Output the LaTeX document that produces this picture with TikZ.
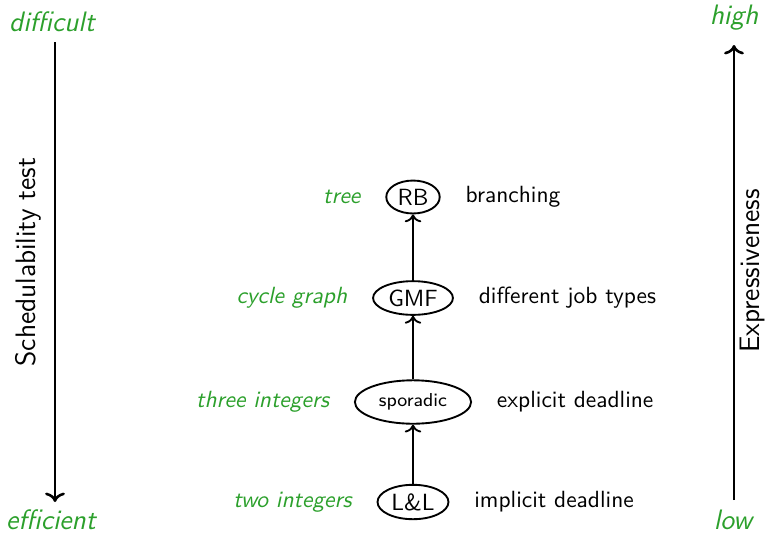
\documentclass[tikz,border=0pt]{standalone}
\usepackage{xcolor}
\usepackage{tikz}
\usetikzlibrary{arrows.meta,positioning,shapes.geometric}
\definecolor{cG}{HTML}{2CA02C}
\tikzset{
  model/.style={draw,ellipse,thick,font=\sffamily,inner sep=1.5pt},
  kind/.style={text=cG,font=\sffamily\itshape},
  note/.style={font=\sffamily},
  refine/.style={->,thick},
  axis/.style={->,line width=1.1pt},
  endlab/.style={kind,font=\sffamily\itshape\large},
  axlab/.style={note,font=\sffamily\large,rotate=90}
}

\begin{document}
\begin{tikzpicture}[x=0.015cm,y=-0.015cm,node distance=0.25cm]
  \useasboundingbox (0,0) rectangle (766,534);
  % the four task models
  \node[model] (ll) at (413,502) {L\&L};
  \node[model,font=\sffamily\footnotesize,inner sep=3pt] (spor) at (413,402) {sporadic};
  \node[model] (gmf) at (413,298) {GMF};
  \node[model] (rb) at (413,197) {RB};
  \draw[refine] (ll) -- (spor);
  \draw[refine] (spor) -- (gmf);
  \draw[refine] (gmf) -- (rb);
  % what each one is made of / what it adds
  \node[kind,left=of ll] (llk) {two integers};
  \node[kind,left=of spor] (spork) {three integers};
  \node[kind,left=of gmf] (gmfk) {cycle graph};
  \node[kind,left=of rb] (rbk) {tree};
  \node[note,right=of ll] (lln) {implicit deadline};
  \node[note,right=of spor] (sporn) {explicit deadline};
  \node[note,right=of gmf] (gmfn) {different job types};
  \node[note,right=of rb] (rbn) {branching};
  % the two scales
  \node[endlab] (diff) at (52,22) {difficult};
  \node[endlab] (eff) at (51,520) {efficient};
  \coordinate (dtop) at (55,42);
  \draw[axis] (dtop) -- (dtop |- 0,502);
  \node[axlab] (sched) at (28,262) {Schedulability test};
  \node[endlab] (high) at (734,18) {high};
  \node[endlab] (low) at (733,520) {low};
  \coordinate (lbot) at (734,500);
  \draw[axis] (lbot) -- (lbot |- 0,45);
  \node[axlab] (expr) at (752,271) {Expressiveness};
\end{tikzpicture}
\end{document}
